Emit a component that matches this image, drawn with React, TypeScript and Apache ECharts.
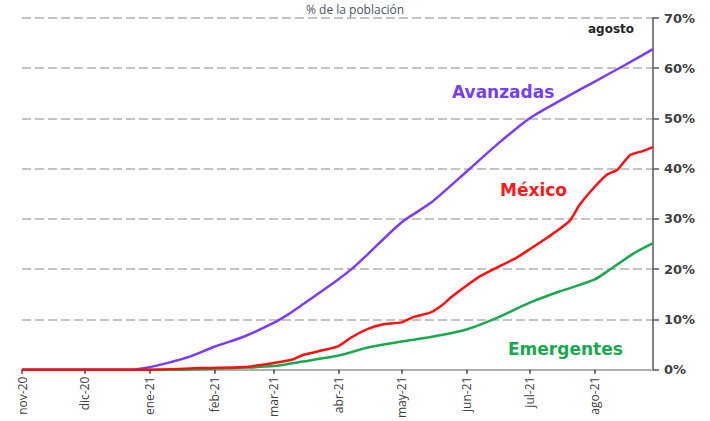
import React, { useEffect, useRef } from "react";
import * as echarts from "echarts";

const monthStarts = ["2020-11-01", "2020-12-01", "2021-01-01", "2021-02-01", "2021-03-01", "2021-04-01", "2021-05-01", "2021-06-01", "2021-07-01", "2021-08-01"];
const monthLabels = ["nov-20", "dic-20", "ene-21", "feb-21", "mar-21", "abr-21", "may-21", "jun-21", "jul-21", "ago-21"];
const yTicks = ["0%", "10%", "20%", "30%", "40%", "50%", "60%", "70%"];
const startDate = "2020-11-01";
const endDate = "2021-08-29";

const avanzadasDates = ["2020-11-01", "2020-12-01", "2020-12-23", "2021-01-01", "2021-01-10", "2021-01-20", "2021-02-01", "2021-02-15", "2021-03-01", "2021-03-08", "2021-03-15", "2021-04-01", "2021-04-08", "2021-04-15", "2021-05-01", "2021-05-15", "2021-06-01", "2021-06-15", "2021-07-01", "2021-07-15", "2021-08-01", "2021-08-15", "2021-08-29"];
const avanzadasValues = [0, 0, 0, 0.5, 1.4, 2.6, 4.6, 6.6, 9.3, 11.0, 13.0, 18.0, 20.3, 23.0, 29.3, 33.2, 39.4, 44.6, 50.0, 53.4, 57.3, 60.5, 63.8];

const mexicoDates = ["2020-11-01", "2021-01-01", "2021-01-25", "2021-02-15", "2021-03-01", "2021-03-10", "2021-03-15", "2021-03-25", "2021-04-01", "2021-04-07", "2021-04-15", "2021-04-22", "2021-05-01", "2021-05-07", "2021-05-15", "2021-05-20", "2021-05-25", "2021-06-01", "2021-06-08", "2021-06-15", "2021-06-25", "2021-07-01", "2021-07-10", "2021-07-20", "2021-07-25", "2021-08-01", "2021-08-07", "2021-08-12", "2021-08-18", "2021-08-24", "2021-08-29"];
const mexicoValues = [0, 0, 0.3, 0.5, 1.3, 2.0, 2.9, 3.9, 4.7, 6.4, 8.1, 9.0, 9.4, 10.5, 11.4, 12.7, 14.5, 16.7, 18.7, 20.2, 22.3, 23.9, 26.4, 29.5, 32.8, 36.3, 38.8, 39.8, 42.7, 43.5, 44.3];

const emergentesDates = ["2020-11-01", "2021-01-15", "2021-02-01", "2021-02-15", "2021-03-01", "2021-03-15", "2021-04-01", "2021-04-15", "2021-05-01", "2021-05-15", "2021-06-01", "2021-06-15", "2021-07-01", "2021-07-15", "2021-08-01", "2021-08-08", "2021-08-20", "2021-08-29"];
const emergentesValues = [0, 0, 0.2, 0.4, 0.7, 1.6, 2.8, 4.4, 5.6, 6.5, 8.0, 10.2, 13.3, 15.5, 17.9, 19.8, 23.2, 25.2];

const dayOf = (s: string) => Math.round((Date.parse(s) - Date.parse(startDate)) / 86400000);
const pair = (d: string[], v: number[]) => d.map((x, i) => [dayOf(x), v[i]]);

export default function App() {
  const ref = useRef<HTMLDivElement>(null);
  useEffect(() => {
    if (!ref.current) return;
    const chart = echarts.init(ref.current, null, { renderer: "svg" });
    const ticks = monthStarts.map(dayOf);
    const labelFor = (v: number) => {
      const idx = ticks.indexOf(Math.round(v));
      return idx >= 0 ? monthLabels[idx] : "";
    };
    const font = "'Open Sans', 'Noto Sans', sans-serif";
    const wide = "'DejaVu Sans', 'Open Sans', sans-serif";
    chart.setOption({
      animation: false,
      grid: { left: 22, right: 57, top: 18, bottom: 51 },
      xAxis: {
        type: "value",
        min: 0,
        max: dayOf(endDate),
        axisLine: { show: true, onZero: false, lineStyle: { color: "#b0b0b0", width: 2 } },
        axisTick: { show: true, customValues: ticks, length: 4, lineStyle: { color: "#404040", width: 1.5 } },
        axisLabel: {
          customValues: ticks,
          formatter: (v: number) => labelFor(v),
          rotate: 90,
          color: "#404040",
          fontSize: 12,
          fontFamily: font,
          margin: 7,
        },
        splitLine: { show: false },
      },
      yAxis: {
        type: "value",
        position: "right",
        min: 0,
        max: 70,
        interval: 10,
        axisLine: { show: true, onZero: false, lineStyle: { color: "#595959", width: 1.5 } },
        axisTick: { show: true, length: 6, lineStyle: { color: "#595959", width: 1.5 } },
        axisLabel: {
          formatter: (v: number) => yTicks[Math.round(v / 10)],
          color: "#404040",
          fontSize: 13,
          fontWeight: "bold",
          fontFamily: wide,
          margin: 11,
        },
        splitLine: { show: true, lineStyle: { color: "#c4c4c4", width: 2, type: [9, 4] } },
      },
      series: [
        {
          name: "Avanzadas",
          type: "line",
          data: pair(avanzadasDates, avanzadasValues),
          showSymbol: false,
          smooth: 0.25,
          lineStyle: { color: "#7a3cf5", width: 2.5 },
          itemStyle: { color: "#7a3cf5" },
          z: 3,
        },
        {
          name: "Emergentes",
          type: "line",
          data: pair(emergentesDates, emergentesValues),
          showSymbol: false,
          smooth: 0.25,
          lineStyle: { color: "#1aa84f", width: 2.5 },
          itemStyle: { color: "#1aa84f" },
          z: 2,
        },
        {
          name: "México",
          type: "line",
          data: pair(mexicoDates, mexicoValues),
          showSymbol: false,
          smooth: 0.2,
          lineStyle: { color: "#ff1010", width: 2.5 },
          itemStyle: { color: "#ff1010" },
          z: 4,
        },
      ],
      graphic: [
        { type: "text", left: "center", top: 3, style: { text: "% de la población", fontSize: 12, fontFamily: font, fill: "#4a5468" } },
        { type: "text", left: 588, top: 23, style: { text: "agosto", fontSize: 12, fontWeight: "bold", fontFamily: wide, fill: "#262626" } },
        { type: "text", left: 452, top: 83, style: { text: "Avanzadas", fontSize: 17, fontWeight: "bold", fontFamily: wide, fill: "#7440f2" } },
        { type: "text", left: 500, top: 181, style: { text: "México", fontSize: 17, fontWeight: "bold", fontFamily: wide, fill: "#ff1a1a" } },
        { type: "text", left: 508, top: 340, style: { text: "Emergentes", fontSize: 17, fontWeight: "bold", fontFamily: wide, fill: "#1aa84f" } },
      ],
    });
    return () => chart.dispose();
  }, []);
  return <div ref={ref} style={{ width: 710, height: 421, position: "absolute", left: 0, top: 0, background: "#fff" }} />;
}
